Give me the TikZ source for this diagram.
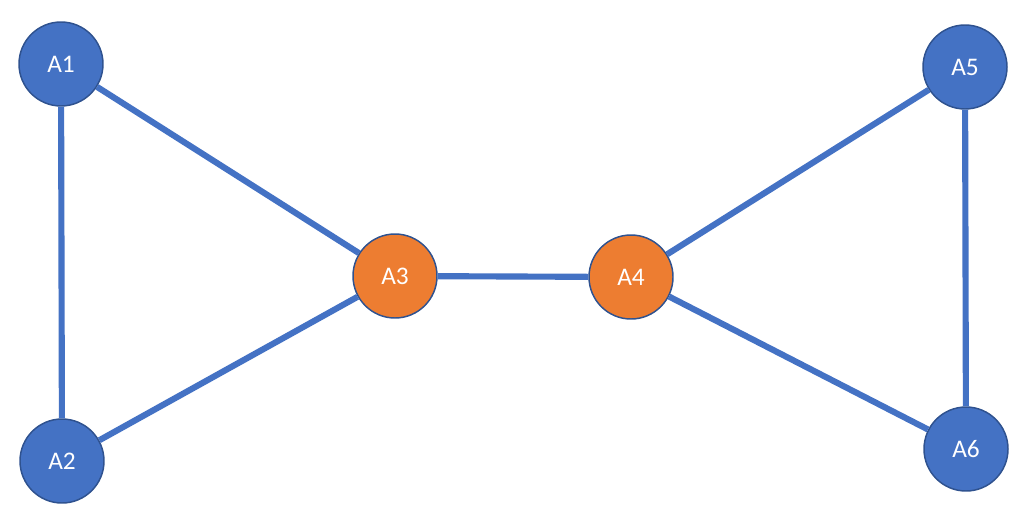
\documentclass[tikz,border=0pt]{standalone}
\usepackage{fontspec}
\setmainfont{Carlito}
\definecolor{nblue}{HTML}{4472C4}
\definecolor{norange}{HTML}{ED7D31}
\definecolor{nedge}{HTML}{2F528F}
\tikzset{
  vtx/.style={circle, draw=nedge, line width=1.1pt, minimum size=63pt, inner sep=0pt, text=white, font=\fontsize{19}{22}\selectfont},
  bluevtx/.style={vtx, fill=nblue},
  orangevtx/.style={vtx, fill=norange},
  link/.style={draw=nblue, line width=4.6pt}
}
\begin{document}
\begin{tikzpicture}[x=0.75pt,y=-0.75pt]
\useasboundingbox (0,0) rectangle (1034,514);
\node[bluevtx] (A1) at (61,64) {A1};
\node[bluevtx] (A2) at (62,461) {A2};
\node[orangevtx] (A3) at (395,276) {A3};
\node[orangevtx] (A4) at (631,277) {A4};
\node[bluevtx] (A5) at (965,67) {A5};
\node[bluevtx] (A6) at (966,449) {A6};
\draw[link] (A1) -- (A2);
\draw[link] (A1) -- (A3);
\draw[link] (A2) -- (A3);
\draw[link] (A3) -- (A4);
\draw[link] (A4) -- (A5);
\draw[link] (A4) -- (A6);
\draw[link] (A5) -- (A6);
\end{tikzpicture}
\end{document}
